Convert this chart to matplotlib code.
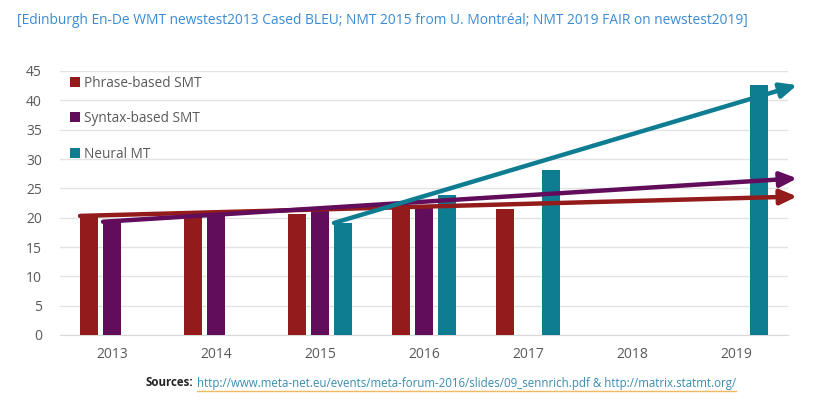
import matplotlib
matplotlib.use("Agg")
import matplotlib.pyplot as plt
import numpy as np
from matplotlib.patches import Patch

plt.rcParams['font.family'] = ['Open Sans', 'DejaVu Sans']

years = ['2013', '2014', '2015', '2016', '2017', '2018', '2019']
phrase_smt = [20.3, 20.1, 20.6, 21.9, 21.4, None, None]
syntax_smt = [19.3, 20.3, 21.9, 22.1, None, None, None]
neural_mt = [None, None, 19.1, 23.8, 28.1, None, 42.6]
series_names = ['Phrase-based SMT', 'Syntax-based SMT', 'Neural MT']
# trend arrows: start value and end value for each series
trend_start = [20.3, 19.3, 19.1]
trend_end = [23.6, 26.7, 42.6]
y_ticks = [0, 5, 10, 15, 20, 25, 30, 35, 40, 45]

title = "[Edinburgh En-De WMT newstest2013 Cased BLEU; NMT 2015 from U. Montréal; NMT 2019 FAIR on newstest2019]"
src_label = "Sources:"
src_links = "http://www.meta-net.eu/events/meta-forum-2016/slides/09_sennrich.pdf & http://matrix.statmt.org/"

colors = ['#931b1b', '#620c5c', '#0f7d91']
grey = '#595959'

fig = plt.figure(figsize=(8.36, 4.09), dpi=100)
ax = fig.add_axes([60/836, 1-335/409, 728/836, 264/409])

x = np.arange(len(years))
width = 0.173
offs = [-0.221, 0.0, 0.221]
for s, (vals, c) in enumerate(zip([phrase_smt, syntax_smt, neural_mt], colors)):
    xs = [xi + offs[s] for xi, v in zip(x, vals) if v is not None]
    vs = [v for v in vals if v is not None]
    ax.bar(xs, vs, width=width, color=c, zorder=3)

ax.set_xlim(-0.5, len(years) - 0.5)
ax.set_ylim(0, 45)
ax.set_yticks(y_ticks)
ax.set_xticks(x)
ax.set_xticklabels(years)
ax.tick_params(axis='both', length=0, colors=grey, labelsize=10)
ax.tick_params(axis='y', pad=13)
ax.tick_params(axis='x', pad=9)
ax.grid(axis='y', color='#e3e3e3', linewidth=1, zorder=0)
for sp in ['top', 'right', 'left']:
    ax.spines[sp].set_visible(False)
ax.spines['bottom'].set_color('#d9d9d9')

# trend arrows
starts_x = [0 + offs[0] - width/2, 0 + offs[1] - width/2, 2 + offs[2] - width/2]
end_x = 6.587
for sx, sy, ey, c in zip(starts_x, trend_start, trend_end, colors):
    ax.annotate('', xy=(end_x, ey), xytext=(sx, sy),
                arrowprops=dict(arrowstyle='-|>,head_length=1.0,head_width=0.45',
                                color=c, lw=3.2, shrinkA=0, shrinkB=0),
                annotation_clip=False, zorder=5)

handles = [Patch(facecolor=c, edgecolor='none') for c in colors]
leg = ax.legend(handles, series_names, loc='upper left', bbox_to_anchor=(0.0, 1.018),
                frameon=False, fontsize=9.8, labelspacing=1.5, handlelength=0.75,
                handleheight=0.75, handletextpad=0.35, borderaxespad=0.3)
for t in leg.get_texts():
    t.set_color(grey)

fig.text(17/836, 1-20/409, title, color='#3a8ad6', fontsize=9.95, va='center', ha='left')

t1 = fig.text(145/836, 1-383/409, src_label, color='#222222', fontsize=8.3,
              fontweight='bold', va='center', ha='left')
fig.canvas.draw()
bb = t1.get_window_extent()
t2 = fig.text(bb.x1/836 + 4/836, 1-383/409, src_links, color='#3a8cb0', fontsize=8.3,
              va='center', ha='left')
fig.canvas.draw()
bb2 = t2.get_window_extent()
fig.add_artist(plt.Line2D([bb2.x0/836, bb2.x1/836], [(bb2.y0-1)/409, (bb2.y0-1)/409],
                          color='#f0b860', lw=1))

fig.savefig('out.png', dpi=100)
